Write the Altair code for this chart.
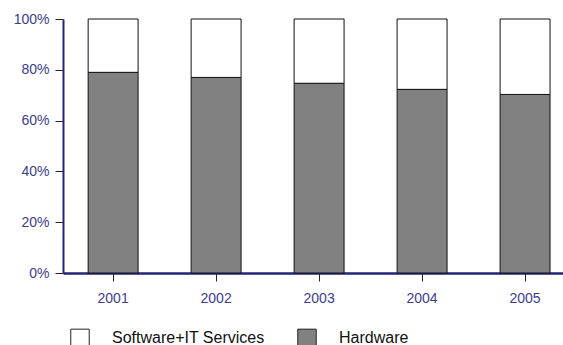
import altair as alt
import pandas as pd

years = ["2001", "2002", "2003", "2004", "2005"]
hardware = [79.0, 77.0, 74.7, 72.3, 70.3]
software = [round(100 - h, 1) for h in hardware]
series = ["Software+IT Services", "Hardware"]

rows = []
for y, h, s in zip(years, hardware, software):
    rows.append({"year": y, "series": "Hardware", "value": h, "ord": 0})
    rows.append({"year": y, "series": "Software+IT Services", "value": s, "ord": 1})
df = pd.DataFrame(rows)

navy = "#23237a"
label_navy = "#3d3d8c"

chart = alt.Chart(df).mark_bar(stroke="#111111", strokeWidth=1).encode(
    x=alt.X("year:N", sort=years,
            scale=alt.Scale(paddingInner=0.515, paddingOuter=0.185, align=0.66),
            axis=alt.Axis(title=None, labelAngle=0, domainColor=navy, domainWidth=2.5,
                          tickColor="#222222", tickSize=8, tickWidth=1,
                          labelColor=label_navy, labelFont="Liberation Sans",
                          labelFontSize=14, labelPadding=10)),
    y=alt.Y("value:Q", stack="zero",
            scale=alt.Scale(domain=[0, 100]),
            axis=alt.Axis(title=None, values=[0, 20, 40, 60, 80, 100],
                          labelExpr="datum.value + '%'", grid=False,
                          domainColor=navy, domainWidth=2,
                          tickColor="#222222", tickSize=8, tickWidth=1,
                          labelColor=label_navy, labelFont="Liberation Sans",
                          labelFontSize=14, labelPadding=6)),
    color=alt.Color("series:N",
                    scale=alt.Scale(domain=series, range=["#ffffff", "#808180"]),
                    legend=alt.Legend(title=None, orient="none", legendX=7, legendY=309,
                                      direction="horizontal", symbolType="square",
                                      symbolSize=340, symbolStrokeColor="#222222",
                                      symbolStrokeWidth=1, labelOffset=22,
                                      labelFont="Liberation Sans", labelFontSize=16,
                                      labelColor="#111111", columnPadding=30)),
    order=alt.Order("ord:Q"),
).properties(
    width=500, height=254,
    autosize=alt.AutoSizeParams(type="none"),
    padding={"left": 63, "top": 19, "right": 0, "bottom": 72},
).configure_view(stroke=None).configure_legend(symbolFillColor=None)

chart.save("out.html", embed_options={"renderer": "svg", "actions": False})
